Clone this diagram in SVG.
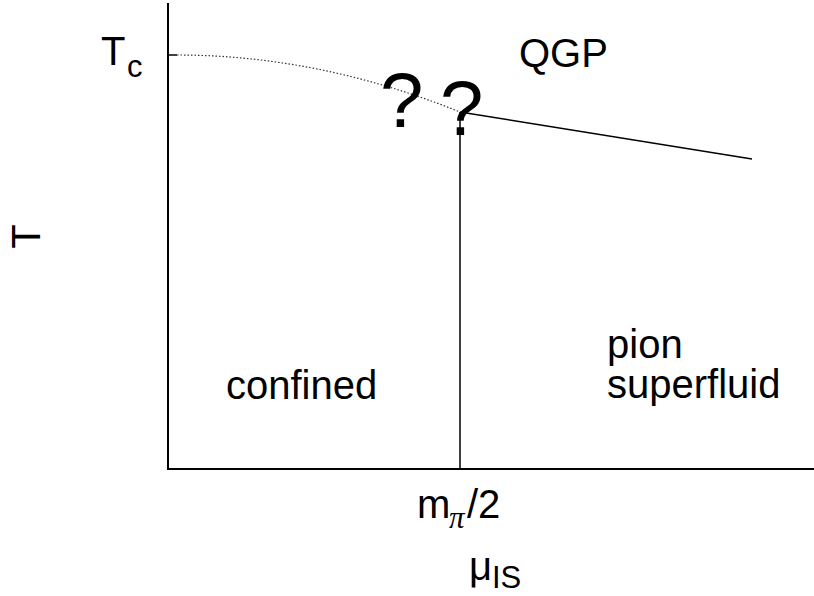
<svg xmlns="http://www.w3.org/2000/svg" width="814" height="596" viewBox="0 0 814 596">
<style>
text{font-family:"Liberation Sans",Arial,sans-serif;fill:#000}
.lbl{font-size:40px}
.sub{font-size:31px}
.q{font-size:78px}
.ax{stroke:#000;stroke-width:2;fill:none}
.ln{stroke:#000;stroke-width:1.5;fill:none}
.dot{stroke:#333;stroke-width:1.2;stroke-dasharray:1.5 2;fill:none}
</style>
<rect width="814" height="596" fill="#fff"/>
<g id="connectors">
<line class="ax" x1="168" y1="3" x2="168" y2="469"/>
<line class="ax" x1="167" y1="469" x2="814" y2="469" stroke="#333"/>
<line class="ln" x1="168" y1="55" x2="177" y2="55"/>
<path class="dot" d="M177,55 Q318.5,55 460,112"/>
<line class="ln" x1="460" y1="112" x2="752" y2="159"/>
<line class="ln" x1="460" y1="112" x2="460" y2="469"/>
</g>
<g id="tc"><text class="lbl" x="101" y="65">T</text><text class="sub" x="127" y="77">c</text></g>
<g id="qgp"><text class="lbl" x="519" y="67">QGP</text></g>
<g id="q1"><text class="q" x="380" y="127">?</text></g>
<g id="q2"><text class="q" x="440" y="135">?</text></g>
<g id="confined"><text class="lbl" x="226" y="399">confined</text></g>
<g id="pion"><text class="lbl" x="607" y="358">pion</text><text class="lbl" x="607" y="398">superfluid</text></g>
<g id="ylabel"><text class="lbl" text-anchor="middle" transform="translate(40,236.5) rotate(-90)">T</text></g>
<g id="mpi"><text class="lbl" x="417" y="518">m</text><text class="sub" x="449" y="528" style="font-family:'Liberation Serif',serif;font-style:italic">π</text><text class="lbl" x="467" y="518">/2</text></g>
<g id="mu"><text class="lbl" x="469" y="580">μ</text><text class="sub" x="492" y="588">IS</text></g>
</svg>
